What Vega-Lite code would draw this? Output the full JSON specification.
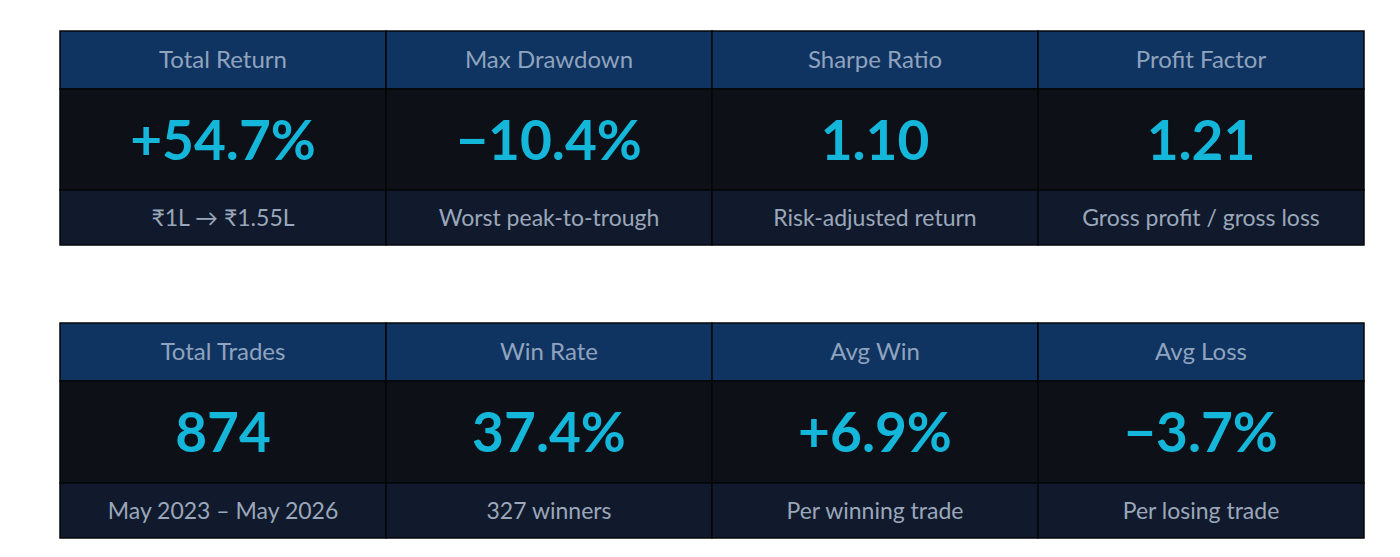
{
  "$schema": "https://vega.github.io/schema/vega-lite/v6.json",
  "padding": {"left": 59, "top": 30, "right": 0, "bottom": 0},
  "background": "white",
  "config": {"view": {"stroke": null}},
  "datasets": {
    "cards": [
      {"table": 1, "metric": "Total Return", "value": "+54.7%", "note": "₹1L → ₹1.55L"},
      {"table": 1, "metric": "Max Drawdown", "value": "−10.4%", "note": "Worst peak-to-trough"},
      {"table": 1, "metric": "Sharpe Ratio", "value": "1.10", "note": "Risk-adjusted return"},
      {"table": 1, "metric": "Profit Factor", "value": "1.21", "note": "Gross profit / gross loss"},
      {"table": 2, "metric": "Total Trades", "value": "874", "note": "May 2023 – May 2026"},
      {"table": 2, "metric": "Win Rate", "value": "37.4%", "note": "327 winners"},
      {"table": 2, "metric": "Avg Win", "value": "+6.9%", "note": "Per winning trade"},
      {"table": 2, "metric": "Avg Loss", "value": "−3.7%", "note": "Per losing trade"}
    ]
  },
  "spacing": 0,
  "bounds": "flush",
  "vconcat": [
    {
      "width": 1304, "height": 58,
      "data": {"name": "cards"},
      "transform": [{"filter": "datum.table == 1"}],
      "encoding": {"x": {"field": "metric", "type": "nominal", "sort": null, "axis": null, "scale": {"paddingInner": 0, "paddingOuter": 0}}},
      "layer": [
        {"mark": {"type": "rect", "fill": "#0f3461", "stroke": "#050708", "strokeWidth": 1.5}},
        {"mark": {"type": "text", "font": "Lato", "fontSize": 24, "color": "#8fa3be", "baseline": "middle", "dy": 1}, "encoding": {"text": {"field": "metric"}}}
      ]
    },
    {
      "width": 1304, "height": 101,
      "data": {"name": "cards"},
      "transform": [{"filter": "datum.table == 1"}],
      "encoding": {"x": {"field": "metric", "type": "nominal", "sort": null, "axis": null, "scale": {"paddingInner": 0, "paddingOuter": 0}}},
      "layer": [
        {"mark": {"type": "rect", "fill": "#0d1117", "stroke": "#050708", "strokeWidth": 1.5}},
        {"mark": {"type": "text", "font": "Lato", "fontSize": 55, "fontWeight": "bold", "color": "#14b6d9", "baseline": "middle", "dy": 3}, "encoding": {"text": {"field": "value"}}}
      ]
    },
    {
      "width": 1304, "height": 55,
      "data": {"name": "cards"},
      "transform": [{"filter": "datum.table == 1"}],
      "encoding": {"x": {"field": "metric", "type": "nominal", "sort": null, "axis": null, "scale": {"paddingInner": 0, "paddingOuter": 0}}},
      "layer": [
        {"mark": {"type": "rect", "fill": "#111a2c", "stroke": "#050708", "strokeWidth": 1.5}},
        {"mark": {"type": "text", "font": "Lato", "fontSize": 23, "color": "#9aa7ba", "baseline": "middle", "dy": 1}, "encoding": {"text": {"field": "note"}}}
      ]
    },
    {
      "width": 1304, "height": 78,
      "data": {"values": [{"gap": ""}]},
      "mark": {"type": "text", "opacity": 0},
      "encoding": {"text": {"field": "gap"}}
    },
    {
      "width": 1304, "height": 58,
      "data": {"name": "cards"},
      "transform": [{"filter": "datum.table == 2"}],
      "encoding": {"x": {"field": "metric", "type": "nominal", "sort": null, "axis": null, "scale": {"paddingInner": 0, "paddingOuter": 0}}},
      "layer": [
        {"mark": {"type": "rect", "fill": "#0f3461", "stroke": "#050708", "strokeWidth": 1.5}},
        {"mark": {"type": "text", "font": "Lato", "fontSize": 24, "color": "#8fa3be", "baseline": "middle", "dy": 1}, "encoding": {"text": {"field": "metric"}}}
      ]
    },
    {
      "width": 1304, "height": 102,
      "data": {"name": "cards"},
      "transform": [{"filter": "datum.table == 2"}],
      "encoding": {"x": {"field": "metric", "type": "nominal", "sort": null, "axis": null, "scale": {"paddingInner": 0, "paddingOuter": 0}}},
      "layer": [
        {"mark": {"type": "rect", "fill": "#0d1117", "stroke": "#050708", "strokeWidth": 1.5}},
        {"mark": {"type": "text", "font": "Lato", "fontSize": 55, "fontWeight": "bold", "color": "#14b6d9", "baseline": "middle", "dy": 3}, "encoding": {"text": {"field": "value"}}}
      ]
    },
    {
      "width": 1304, "height": 55,
      "data": {"name": "cards"},
      "transform": [{"filter": "datum.table == 2"}],
      "encoding": {"x": {"field": "metric", "type": "nominal", "sort": null, "axis": null, "scale": {"paddingInner": 0, "paddingOuter": 0}}},
      "layer": [
        {"mark": {"type": "rect", "fill": "#111a2c", "stroke": "#050708", "strokeWidth": 1.5}},
        {"mark": {"type": "text", "font": "Lato", "fontSize": 23, "color": "#9aa7ba", "baseline": "middle", "dy": 1}, "encoding": {"text": {"field": "note"}}}
      ]
    }
  ]
}
